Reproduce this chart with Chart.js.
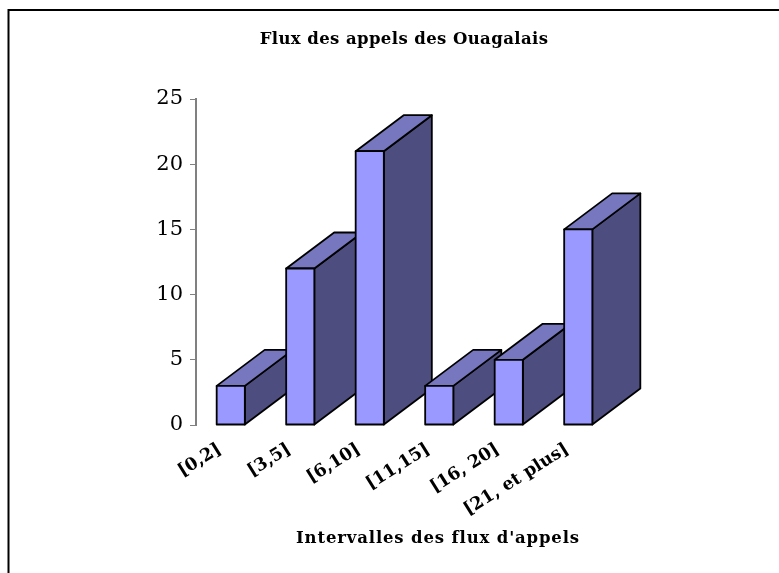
<!DOCTYPE html>
<html><head><meta charset="utf-8">
<style>html,body{margin:0;padding:0;background:#fff}#w{position:absolute;left:0;top:0;width:779px;height:573px}</style>
<script src="https://cdn.jsdelivr.net/npm/chart.js@4/dist/chart.umd.min.js"></script>
</head><body><div id="w"><canvas id="c" width="779" height="573"></canvas></div>
<script>
const categories = ["[0,2]", "[3,5]", "[6,10]", "[11,15]", "[16, 20]", "[21, et plus]"];
const seriesValues = [3, 12, 21, 3, 5, 15];
const tickValues = [0, 5, 10, 15, 20, 25];
const titleText = "Flux des appels des Ouagalais";
const xAxisTitle = "Intervalles des flux d'appels";

const FONT = '"DejaVu Serif"';
const DX = 48, DY = 36;

const bars3d = {
  id: 'bars3d',
  afterDatasetsDraw(chart) {
    const ctx = chart.ctx;
    const meta = chart.getDatasetMeta(0);
    ctx.save();
    ctx.lineWidth = 1.8;
    ctx.strokeStyle = '#000';
    ctx.lineJoin = 'round';
    meta.data.forEach(bar => {
      const l = bar.x - bar.width / 2, r = bar.x + bar.width / 2, t = bar.y, b = bar.base;
      ctx.fillStyle = '#4d4d80';
      ctx.beginPath();
      ctx.moveTo(r, b); ctx.lineTo(r + DX, b - DY); ctx.lineTo(r + DX, t - DY); ctx.lineTo(r, t); ctx.closePath();
      ctx.fill(); ctx.stroke();
      ctx.fillStyle = '#7777bf';
      ctx.beginPath();
      ctx.moveTo(l, t); ctx.lineTo(l + DX, t - DY); ctx.lineTo(r + DX, t - DY); ctx.lineTo(r, t); ctx.closePath();
      ctx.fill(); ctx.stroke();
      ctx.fillStyle = '#9999ff';
      ctx.beginPath();
      ctx.rect(l, t, r - l, b - t);
      ctx.fill(); ctx.stroke();
    });
    ctx.restore();
  }
};
const frame = {
  id: 'frame',
  beforeDraw(chart) {
    const ctx = chart.ctx;
    ctx.save();
    ctx.strokeStyle = '#000';
    ctx.lineWidth = 2;
    ctx.beginPath();
    ctx.moveTo(8.5, 573); ctx.lineTo(8.5, 10); ctx.lineTo(779, 10);
    ctx.stroke();
    ctx.restore();
  }
};
const texts = {
  id: 'texts',
  afterDraw(chart) {
    const ctx = chart.ctx;
    ctx.save();
    ctx.fillStyle = '#000';
    ctx.textAlign = 'center';
    ctx.textBaseline = 'middle';
    ctx.font = 'bold 16.5px ' + FONT;
    ctx.letterSpacing = '0.4px';
    ctx.fillText(titleText, 404, 40);
    ctx.letterSpacing = '0.85px';
    ctx.fillText(xAxisTitle, 438, 539);
    ctx.restore();
  }
};

new Chart(document.getElementById('c'), {
  type: 'bar',
  data: { labels: categories, datasets: [{ data: seriesValues, backgroundColor: 'rgba(0,0,0,0)', borderWidth: 0, categoryPercentage: 1, barPercentage: 0.405 }] },
  plugins: [frame, bars3d, texts],
  options: {
    responsive: false, animation: false,
    layout: { padding: { left: 0, right: 166, top: 99, bottom: 0 } },
    plugins: {
      legend: { display: false }, tooltip: { enabled: false },
      title: { display: false }
    },
    scales: {
      y: {
        min: 0, max: 25,
        afterBuildTicks(a) { a.ticks = tickValues.map(v => ({ value: v })); },
        afterFit(a) { a.width = 196; },
        grid: { drawOnChartArea: false, drawTicks: true, tickLength: 6, color: '#808080' },
        border: { color: '#808080', width: 2 },
        ticks: { color: '#000', font: { family: FONT, size: 21 }, padding: 7 }
      },
      x: {
        afterFit(a) { a.height = 148; },
        grid: { display: false },
        border: { display: false },
        ticks: { color: '#000', maxRotation: 32, minRotation: 32, autoSkip: false, labelOffset: -11, font: { family: FONT, size: 17.5, weight: 'bold' }, padding: 6 }
      }
    }
  }
});
</script></body></html>
